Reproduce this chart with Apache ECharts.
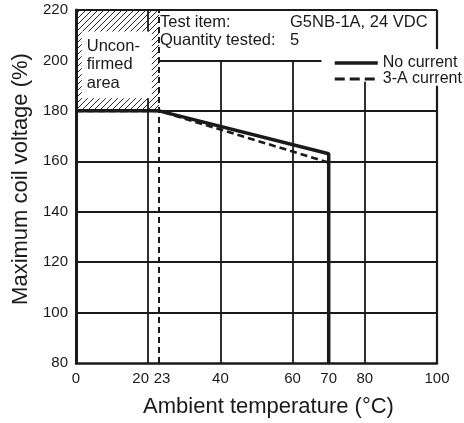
<!DOCTYPE html>
<html><head><meta charset="utf-8">
<script src="https://cdn.jsdelivr.net/npm/echarts@6/dist/echarts.min.js"></script>
<style>html,body{margin:0;padding:0;background:#fff}#c{width:464px;height:423px}</style>
</head><body><div id="c"></div>
<script>
// ---- data ----
var xTickLabels = [0, 20, 23, 40, 60, 70, 80, 100];
var temps = [0, 23, 70, 70];
var noCurrent = [180, 180, 163, 80];
var threeACurrent = [180, 180, 159.5, 80];
var yMin = 80, yMax = 220, yStep = 20;
var seriesNames = ['No current', '3-A current'];

var INK = '#1a1a1a';
var FONT = 'Liberation Sans, Arial, sans-serif';

// hatch pattern
var pat = document.createElement('canvas');
pat.width = 6; pat.height = 6;
var pc = pat.getContext('2d');
pc.strokeStyle = '#2a2a2a'; pc.lineWidth = 1;
[[-1, 7, 7, -1], [-1, 1, 1, -1], [5, 7, 7, 5]].forEach(function (s) {
  pc.beginPath(); pc.moveTo(s[0], s[1]); pc.lineTo(s[2], s[3]); pc.stroke();
});

function seg(x0, y0, x1, y1, w, type) {
  return [{coord: [x0, y0], lineStyle: {color: INK, width: w || 1.8, type: type || 'solid'}},
          {coord: [x1, y1]}];
}
var gridSegs = [];
[100, 120, 140, 160, 180].forEach(function (v) { gridSegs.push(seg(0, v, 100, v)); });
gridSegs.push(seg(23, 200, 68, 200));
gridSegs.push(seg(0, 220, 100, 220, 2.2));
gridSegs.push(seg(20, 80, 20, 185));
gridSegs.push(seg(20, 211.5, 20, 220));
gridSegs.push(seg(40, 80, 40, 200));
gridSegs.push(seg(60, 80, 60, 200));
gridSegs.push(seg(80, 80, 80, 191.5));
gridSegs.push(seg(100, 80, 100, 190, 2.2));
gridSegs.push(seg(100, 204.5, 100, 220, 2.2));
gridSegs.push(seg(23, 80, 23, 220, 2, [6, 4]));

var chart = echarts.init(document.getElementById('c'));
chart.setOption({
  animation: false,
  backgroundColor: '#fff',
  grid: {left: 76, right: 27, top: 10, bottom: 52},
  xAxis: {
    type: 'value', min: 0, max: 100, interval: 1,
    name: 'Ambient temperature (°C)', nameLocation: 'middle', nameGap: 33,
    nameTextStyle: {fontFamily: FONT, fontSize: 22, color: INK, padding: [0, 0, 0, 24]},
    axisLine: {show: true, lineStyle: {color: INK, width: 2.5}},
    axisTick: {show: false},
    splitLine: {show: false},
    z: 5,
    axisLabel: {
      fontFamily: FONT, fontSize: 15, color: INK, margin: 8,
      formatter: function (v) {
        if (xTickLabels.indexOf(v) < 0) return '';
        if (v === 20) return '{l|20}';
        if (v === 23) return '{r|23}';
        return String(v);
      },
      rich: {
        l: {fontFamily: FONT, fontSize: 15, color: INK, padding: [0, 15, 0, 0]},
        r: {fontFamily: FONT, fontSize: 15, color: INK, padding: [0, 0, 0, 6]}
      }
    }
  },
  yAxis: {
    type: 'value', min: yMin, max: yMax, interval: yStep,
    name: 'Maximum coil voltage (%)', nameLocation: 'middle', nameGap: 38,
    nameTextStyle: {fontFamily: FONT, fontSize: 22, color: INK, padding: [0, 0, 0, 15]},
    axisLine: {show: true, lineStyle: {color: INK, width: 3}},
    axisTick: {show: false},
    splitLine: {show: false},
    z: 5,
    axisLabel: {fontFamily: FONT, fontSize: 15, color: INK, margin: 8}
  },
  legend: {
    data: [
      {name: seriesNames[0], lineStyle: {width: 3.5, color: INK, type: 'solid'}},
      {name: seriesNames[1], lineStyle: {width: 2.8, color: INK, type: [10, 5]}}
    ],
    orient: 'vertical', left: 328, top: 50,
    itemWidth: 43, itemHeight: 14, itemGap: 0,
    itemStyle: {opacity: 0},
    textStyle: {fontFamily: FONT, fontSize: 16, color: INK, padding: [0, 0, 0, 0]}
  },
  graphic: [
    {type: 'text', left: 160, top: 14, style: {text: 'Test item:', font: '16.5px ' + FONT, fill: INK}},
    {type: 'text', left: 160, top: 32, style: {text: 'Quantity tested:', font: '16.5px ' + FONT, fill: INK}},
    {type: 'text', left: 290, top: 14, style: {text: 'G5NB-1A, 24 VDC', font: '16.5px ' + FONT, fill: INK}},
    {type: 'text', left: 290, top: 32, style: {text: '5', font: '16.5px ' + FONT, fill: INK}}
  ],
  series: [
    {
      type: 'line', name: '_grid', data: [], silent: true, z: 1,
      markArea: {
        silent: true,
        data: [
          [{xAxis: 0, yAxis: 180, itemStyle: {color: {image: pat, repeat: 'repeat'}}, label: {show: false}},
           {xAxis: 23, yAxis: 220}],
          [{xAxis: 1.6, yAxis: 185, itemStyle: {color: '#fff'},
            label: {show: true, position: 'insideLeft', distance: 5, formatter: 'Uncon-\nfirmed\narea',
                    fontFamily: FONT, fontSize: 16.5, lineHeight: 18.5, color: INK}},
           {xAxis: 21, yAxis: 211.5}]
        ]
      },
      markLine: {silent: true, symbol: ['none', 'none'], label: {show: false}, data: gridSegs}
    },
    {
      type: 'line', name: seriesNames[0], data: temps.map(function (t, i) { return [t, noCurrent[i]]; }),
      showSymbol: false, symbol: 'none', z: 4,
      lineStyle: {color: INK, width: 3.5, type: 'solid'},
      itemStyle: {color: INK}
    },
    {
      type: 'line', name: seriesNames[1], data: temps.map(function (t, i) { return [t, threeACurrent[i]]; }),
      showSymbol: false, symbol: 'none', z: 3,
      lineStyle: {color: INK, width: 2.6, type: [7, 4]},
      itemStyle: {color: INK}
    }
  ]
});
</script></body></html>
